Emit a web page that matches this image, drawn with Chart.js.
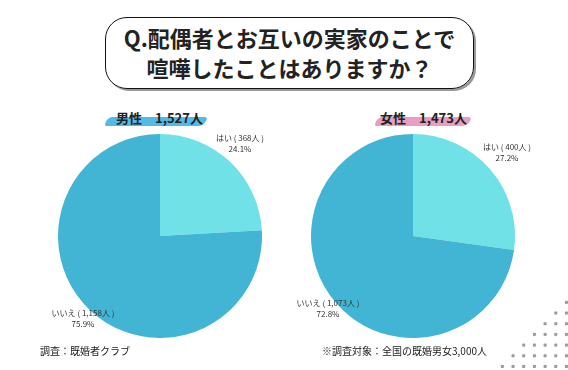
<!DOCTYPE html>
<html lang="ja">
<head>
<meta charset="utf-8">
<script src="https://cdn.jsdelivr.net/npm/chart.js@4"></script>
<style>
  body { margin: 0; width: 568px; height: 370px; background: #fff; position: relative; overflow: hidden;
    font-family: "Noto Sans CJK JP", "Noto Sans", sans-serif; color: #222; }
  .abs { position: absolute; }
  .title { left: 105px; top: 17px; width: 367px; height: 66px; border: 1.5px solid #111; border-radius: 22px;
    box-shadow: 2px 2px 0 #999; text-align: center; font-size: 22px; font-weight: bold; line-height: 30px;
    padding-top: 4px; box-sizing: content-box; }
  .head { font-size: 13px; font-weight: bold; top: 108px; white-space: nowrap; }
  .brush { height: 9px; top: 117px; border-radius: 5px 3px 6px 2px; transform: skewX(-20deg); opacity: 0.9; }
  .lbl { font-size: 8px; color: #333; text-align: center; line-height: 11px; white-space: nowrap; }
  .foot { font-size: 10px; color: #222; top: 343px; white-space: nowrap; }
  .dots { background-image: radial-gradient(circle, #9a9a9a 1.6px, transparent 2px); background-size: 10.7px 10.7px; }
  canvas { display: block; }
</style>
</head>
<body>
<div class="abs dots" style="left:494px;top:296px;width:74px;height:74px;clip-path:polygon(100% 0,100% 100%,0 100%);background-position:3px 1px;"></div>

<div class="abs title">Q.配偶者とお互いの実家のことで<br>喧嘩したことはありますか？</div>

<div class="abs brush" style="left:106px;width:100px;background:#3fb4e2;"></div>
<div class="abs head" style="left:116px;">男性　1,527人</div>
<div class="abs brush" style="left:376px;width:94px;background:#e592bd;"></div>
<div class="abs head" style="left:380px;">女性　1,473人</div>

<div class="abs" style="left:58px;top:134px;width:204px;height:204px;"><canvas id="male"></canvas></div>
<div class="abs" style="left:311px;top:134px;width:204px;height:204px;"><canvas id="female"></canvas></div>

<div id="labels"></div>

<div class="abs foot" style="left:40px;">調査：既婚者クラブ</div>
<div class="abs foot" style="left:322px;">※調査対象：全国の既婚男女3,000人</div>

<script>
const answers = ['はい', 'いいえ'];
const maleCounts = [368, 1158];
const malePercents = [24.1, 75.9];
const femaleCounts = [400, 1073];
const femalePercents = [27.2, 72.8];
const sliceColors = ['#70e2e7', '#42b5d4'];

// label anchor points (centre of text block) for each pie
const maleLabelPos = [[240, 143], [83, 318]];
const femaleLabelPos = [[507, 152], [328, 308]];

function makePie(id, counts, percents, pos) {
  new Chart(document.getElementById(id), {
    type: 'pie',
    data: {
      labels: answers,
      datasets: [{ data: percents, backgroundColor: sliceColors, borderWidth: 0 }],
    },
    options: {
      responsive: true,
      maintainAspectRatio: false,
      animation: false,
      layout: { padding: 0 },
      plugins: { legend: { display: false }, tooltip: { enabled: false } },
    },
  });
  const box = document.getElementById('labels');
  answers.forEach((a, i) => {
    const d = document.createElement('div');
    d.className = 'abs lbl';
    d.style.left = (pos[i][0] - 50) + 'px';
    d.style.width = '100px';
    d.style.top = (pos[i][1] - 11) + 'px';
    d.innerHTML = `${a} ( ${counts[i].toLocaleString()}人 )<br>${percents[i]}%`;
    box.appendChild(d);
  });
}

makePie('male', maleCounts, malePercents, maleLabelPos);
makePie('female', femaleCounts, femalePercents, femaleLabelPos);
</script>
</body>
</html>
